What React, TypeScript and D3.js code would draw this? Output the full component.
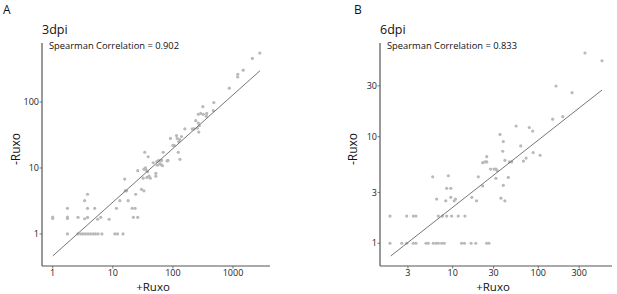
import React from "react";
import * as d3 from "d3";

// ---------- data ----------
const plus3dpi = [
  1, 1, 1.76, 1.76, 1.76, 1.76, 2.64, 2.63, 2.93, 3.2, 3.5, 3.87, 4.25, 4.7, 5.15, 5.7, 6.6,
  10.8, 12, 14.8, 3.4, 3.8, 3.8, 3.4, 3.8, 5.0, 5.6, 6.3, 8.7,
  11.5, 13.1, 15.8, 16, 17, 18, 21, 23.5, 22, 26, 24, 26, 30, 33,
  34, 38.8, 33, 35, 36, 38, 32, 37, 40, 42, 52, 52, 47, 54, 58, 62, 65, 55, 60, 64, 69, 67, 80, 83,
  91, 105, 115, 118, 125, 130, 131, 123, 100, 139, 158, 210, 225, 240, 265, 275, 255, 270, 265, 290,
  320, 365, 315, 360, 480, 470, 870, 1200, 1200, 1480, 2100, 2800,
];
const minus3dpi = [
  1.72, 1.8, 2.45, 1.72, 1.8, 1, 1.79, 1, 1, 1, 1, 1, 1, 1, 1, 1, 1,
  1, 1, 1, 3.2, 4.0, 2.45, 1.7, 1.78, 2.45, 1.67, 1.79, 1.67,
  2.45, 3.2, 6.8, 4.5, 4.5, 3.2, 2.45, 2.45, 1.79, 1.79, 4.0, 9.1, 4.75, 4.5,
  17.3, 14.8, 9.6, 10, 9.2, 8.8, 7, 7.2, 7.5, 7, 8.3, 7.5, 12, 12.5, 13, 12.8, 13, 11, 11.5, 11.2, 17.3, 10.8, 12.8, 13,
  28, 22, 31, 28, 25, 27, 13.5, 17.3, 22, 30, 39, 39, 39, 52, 48, 44, 40, 35, 65, 67,
  65, 67, 85, 61, 98, 74, 162, 263, 240, 303, 457, 550,
];
const fit3dpiX = [1, 2818];
const fit3dpiY = [0.464, 298];

const plus6dpi = [
  1.85, 2.54, 2.9, 3.47, 3.72, 4.88, 5.19, 5.93, 6.38, 6.79, 7.43, 7.98, 12.7, 13.7, 16.4, 18.6, 24.9, 26.5,
  1.85, 2.9, 3.47, 3.72, 6.79, 7.57, 8.51, 9.73, 11.6, 13.9,
  5.84, 6.5, 8.3, 8.5, 9.5, 8.9, 9.5, 10.4, 10.8, 16.7, 19, 19.9, 22.4, 22.4, 23.9, 25, 25,
  27.7, 30.4, 32, 33.1, 32, 36.6, 40.7, 39, 38.4, 39, 35.7, 40.8, 44.6, 46, 49, 62.3, 67, 72, 87, 105,
  55, 78.5, 86, 147, 193, 161, 248, 351, 555,
];
const minus6dpi = [
  1, 1, 1, 1, 1, 1, 1, 1, 1, 1, 1, 1, 1, 1, 1, 1, 1, 1,
  1.8, 1.8, 1.8, 1.8, 1.8, 1.8, 1.8, 1.8, 1.8, 1.8,
  4.2, 2.6, 2.5, 3.28, 3.28, 4.3, 2.7, 2.5, 2.6, 2.7, 2.5, 4.2, 3.45, 5.7, 5.8, 5.8, 6.5,
  4.97, 4.97, 4.97, 4.8, 4.07, 2.65, 2.5, 3.5, 7.3, 9.0, 10.5, 6.0, 4.15, 5.8, 5.8, 8.2, 5.9, 6.3, 7.1, 6.7,
  12.6, 12.2, 11.3, 14.6, 15.4, 29.9, 25.9, 61, 51.6,
];
const fit6dpiX = [1.89, 555];
const fit6dpiY = [0.76, 27.4];

const xTicks3dpi = [1, 10, 100, 1000];
const yTicks3dpi = [1, 10, 100];
const xTicks6dpi = [3, 10, 30, 100, 300];
const yTicks6dpi = [1, 3, 10, 30];

const panelLetters = ["A", "B"];
const panelTitles = ["3dpi", "6dpi"];
const spearman = ["0.902", "0.833"];
const xLabel = "+Ruxo";
const yLabel = "-Ruxo";

// ---------- layout ----------
const FONT = "'Open Sans', 'Noto Sans', sans-serif";
const AXIS = "#555";
const PT = "#b9b9b9";

type Panel = {
  letter: string; title: string; corr: string;
  xs: number[]; ys: number[]; fx: number[]; fy: number[];
  xt: number[]; yt: number[];
  xDom: [number, number]; yDom: [number, number];
  left: number; right: number; letterX: number; yLabelX: number;
};

const panels: Panel[] = [
  {
    letter: panelLetters[0], title: panelTitles[0], corr: spearman[0],
    xs: plus3dpi, ys: minus3dpi, fx: fit3dpiX, fy: fit3dpiY,
    xt: xTicks3dpi, yt: yTicks3dpi,
    xDom: [0.664, 4128], yDom: [0.327, 783],
    left: 42, right: 270, letterX: 3, yLabelX: 20,
  },
  {
    letter: panelLetters[1], title: panelTitles[1], corr: spearman[1],
    xs: plus6dpi, ys: minus6dpi, fx: fit6dpiX, fy: fit6dpiY,
    xt: xTicks6dpi, yt: yTicks6dpi,
    xDom: [1.415, 726], yDom: [0.612, 75.7],
    left: 380, right: 612, letterX: 354, yLabelX: 357,
  },
];

const TOP = 43;
const BOTTOM = 266;

function PanelView({ p }: { p: Panel }) {
  const x = d3.scaleLog().domain(p.xDom).range([p.left, p.right]);
  const y = d3.scaleLog().domain(p.yDom).range([BOTTOM, TOP]);
  const line = d3.line<number>().x((_, i) => x(p.fx[i])).y((_, i) => y(p.fy[i]));
  const cx = (p.left + p.right) / 2 - 3;
  return (
    <g>
      <text x={p.letterX} y={14} fontSize={12} fill="#111">{p.letter}</text>
      <text x={p.left} y={34} fontSize={12.5} fill="#111">{p.title}</text>
      <text x={p.left + 7} y={49} fontSize={9.5} fill="#111" textLength={130} lengthAdjust="spacingAndGlyphs">
        {`Spearman Correlation = ${p.corr}`}
      </text>
      {p.xs.map((v, i) => (
        <circle key={i} cx={x(v)} cy={y(p.ys[i])} r={1.6} fill={PT} />
      ))}
      <path d={line(p.fx) || ""} stroke="#666" strokeWidth={0.9} fill="none" />
      <line x1={p.left} x2={p.left} y1={TOP} y2={BOTTOM} stroke={AXIS} strokeWidth={1.2} />
      <line x1={p.left} x2={p.right} y1={BOTTOM} y2={BOTTOM} stroke={AXIS} strokeWidth={1.2} />
      {p.yt.map((t) => (
        <g key={t}>
          <line x1={p.left - 2.5} x2={p.left} y1={y(t)} y2={y(t)} stroke={AXIS} strokeWidth={0.8} />
          <text x={p.left - 3} y={y(t)} dy="0.35em" textAnchor="end" fontSize={9} fill="#222">{t}</text>
        </g>
      ))}
      {p.xt.map((t) => (
        <g key={t}>
          <line x1={x(t)} x2={x(t)} y1={BOTTOM} y2={BOTTOM + 2.5} stroke={AXIS} strokeWidth={0.8} />
          <text x={x(t)} y={275.5} textAnchor="middle" fontSize={9} fill="#222">{t}</text>
        </g>
      ))}
      <text x={cx} y={290.5} textAnchor="middle" fontSize={11.5} fill="#111">{xLabel}</text>
      <text transform={`translate(${p.yLabelX},149) rotate(-90)`} textAnchor="middle" fontSize={12} fill="#111">{yLabel}</text>
    </g>
  );
}

export default function App() {
  return (
    <svg width={617} height={294} style={{ position: "absolute", left: 0, top: 0, fontFamily: FONT, background: "#fff" }}>
      <rect width={617} height={294} fill="#fff" />
      {panels.map((p) => (
        <PanelView key={p.letter} p={p} />
      ))}
    </svg>
  );
}
